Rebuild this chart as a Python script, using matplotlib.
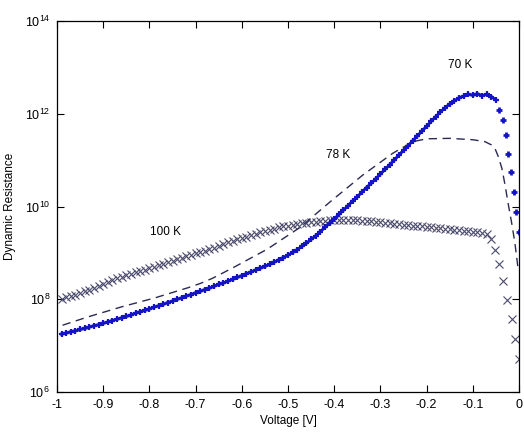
import numpy as np
import matplotlib
matplotlib.use('Agg')
import matplotlib.pyplot as plt

plt.rcParams['font.family'] = ['Liberation Sans', 'DejaVu Sans']
plt.rcParams['mathtext.default'] = 'regular'

# 70 K: dense sweep (-0.99 .. -0.05 step 0.01), then the steep tail near 0 V
v70 = list(np.round(np.arange(-0.99, -0.045, 0.01), 2))
log70 = [7.25, 7.27, 7.30, 7.32, 7.35, 7.37, 7.40, 7.43, 7.45, 7.48,
         7.51, 7.54, 7.57, 7.60, 7.63, 7.66, 7.70, 7.73, 7.76, 7.79,
         7.83, 7.86, 7.89, 7.93, 7.96, 8.00, 8.03, 8.07, 8.10, 8.14,
         8.17, 8.21, 8.24, 8.28, 8.32, 8.35, 8.39, 8.43, 8.47, 8.51,
         8.55, 8.59, 8.63, 8.67, 8.71, 8.75, 8.80, 8.85, 8.90, 8.95,
         9.01, 9.07, 9.14, 9.21, 9.29, 9.37, 9.46, 9.55, 9.64, 9.73,
         9.83, 9.92, 10.02, 10.12, 10.21, 10.31, 10.41, 10.50, 10.60, 10.70,
         10.80, 10.90, 11.00, 11.11, 11.21, 11.31, 11.42, 11.52, 11.63, 11.73,
         11.84, 11.94, 12.04, 12.13, 12.21, 12.28, 12.34, 12.38, 12.42, 12.40,
         12.43, 12.39, 12.42, 12.37, 12.30]
v70_tail = [-0.043, -0.035, -0.029, -0.023, -0.017, -0.011, -0.006, 0.0]
log70_tail = [12.08, 11.86, 11.54, 11.14, 10.74, 10.31, 9.88, 9.44]

# 78 K: dashed line
v78 = [-0.988, -0.933, -0.859, -0.788, -0.716, -0.69, -0.664, -0.619, -0.545,
       -0.474, -0.409, -0.338, -0.273, -0.229, -0.20, -0.15, -0.10, -0.074,
       -0.06, -0.052, -0.045, -0.037, -0.03, -0.024, -0.016, -0.009, -0.002]
log78 = [7.44, 7.62, 7.84, 8.03, 8.25, 8.34, 8.45, 8.68, 9.08,
         9.55, 10.10, 10.68, 11.15, 11.40, 11.46, 11.47, 11.44, 11.40,
         11.33, 11.25, 11.08, 10.82, 10.45, 10.09, 9.65, 9.22, 8.66]

# 100 K: dense sweep (-0.99 .. -0.07 step 0.01), then tail
v100 = list(np.round(np.arange(-0.99, -0.065, 0.01), 2)) + \
    [-0.061, -0.052, -0.043, -0.034, -0.025, -0.016, -0.008, 0.0]
log100 = [8.01, 8.04, 8.07, 8.10, 8.14, 8.17, 8.21, 8.25, 8.29, 8.33,
          8.37, 8.41, 8.45, 8.49, 8.52, 8.55, 8.58, 8.61, 8.64, 8.67,
          8.70, 8.73, 8.76, 8.80, 8.83, 8.87, 8.90, 8.93, 8.96, 8.99,
          9.02, 9.05, 9.08, 9.11, 9.15, 9.19, 9.23, 9.26, 9.29, 9.32,
          9.35, 9.38, 9.41, 9.44, 9.47, 9.50, 9.52, 9.55, 9.57, 9.59,
          9.61, 9.62, 9.64, 9.65, 9.66, 9.67, 9.68, 9.69, 9.70, 9.70,
          9.70, 9.70, 9.70, 9.70, 9.70, 9.69, 9.69, 9.68, 9.67, 9.66,
          9.65, 9.64, 9.63, 9.62, 9.61, 9.60, 9.59, 9.58, 9.57, 9.56,
          9.55, 9.54, 9.53, 9.52, 9.51, 9.50, 9.49, 9.48, 9.47, 9.46,
          9.45, 9.43, 9.41,
          9.29, 9.07, 8.76, 8.40, 7.98, 7.57, 7.14, 6.71]

xticks = [-1, -0.9, -0.8, -0.7, -0.6, -0.5, -0.4, -0.3, -0.2, -0.1, 0]
xticklabels = ['-1', '-0.9', '-0.8', '-0.7', '-0.6', '-0.5', '-0.4',
               '-0.3', '-0.2', '-0.1', '0']
yexp = [6, 8, 10, 12, 14]

fig = plt.figure(figsize=(5.24, 4.38), dpi=100)
ax = fig.add_axes([0.1088, 0.105, 0.8817, 0.847])

blue = '#1414c4'
ax.semilogy(v100, 10 ** np.array(log100), linestyle='none', marker='x',
            ms=5.5, mew=0.8, color='#4a4a6e')
ax.semilogy(v78, 10 ** np.array(log78), linestyle=(0, (6, 4)), lw=1.0,
            color='#2a2a55')
ax.semilogy(v70, 10 ** np.array(log70), linestyle='-', lw=2.2, marker='+',
            ms=5, mew=1.6, color=blue)
ax.semilogy(v70_tail, 10 ** np.array(log70_tail), linestyle='none',
            marker='+', ms=5, mew=2.0, color=blue)

ax.set_xlim(-1, 0)
ax.set_ylim(1e6, 1e14)
ax.set_xticks(xticks)
ax.set_xticklabels(xticklabels)
ax.set_yticks([10.0 ** e for e in yexp])
ax.set_yticklabels(['$10^{%d}$' % e for e in yexp])
ax.minorticks_off()
ax.tick_params(direction='in', length=5, width=0.8, top=True, right=True,
               labelsize=9, pad=5)
for s in ax.spines.values():
    s.set_linewidth(0.9)

ax.set_xlabel('Voltage [V]', fontsize=8.5, labelpad=3)
ax.set_ylabel('Dynamic Resistance', fontsize=8.5, labelpad=6)

ax.text(-0.128, 10 ** 13.05, '70 K', fontsize=8.5, ha='center', va='center')
ax.text(-0.392, 10 ** 11.12, '78 K', fontsize=8.5, ha='center', va='center')
ax.text(-0.765, 10 ** 9.46, '100 K', fontsize=8.5, ha='center', va='center')

fig.savefig('out.png', dpi=100)
